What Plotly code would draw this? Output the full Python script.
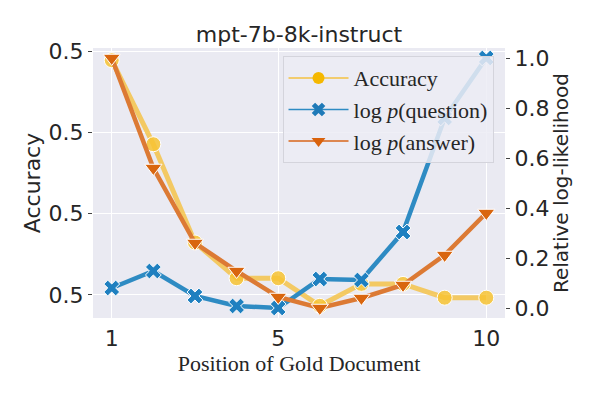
import plotly.graph_objects as go

positions = [1, 2, 3, 4, 5, 6, 7, 8, 9, 10]
accuracy = [0.5178, 0.4971, 0.4729, 0.4641, 0.4641, 0.4573, 0.4627, 0.4627, 0.4593, 0.4593]
log_p_question = [0.08, 0.148, 0.048, 0.008, 0.0, 0.116, 0.112, 0.304, 0.76, 1.0]
log_p_answer = [1.0, 0.56, 0.26, 0.148, 0.044, 0.0, 0.04, 0.092, 0.212, 0.38]

left_tickvals = [0.46, 0.48, 0.50, 0.52]
left_ticktext = ["0.5", "0.5", "0.5", "0.5"]
right_tickvals = [0.0, 0.2, 0.4, 0.6, 0.8, 1.0]
right_ticktext = ["0.0", "0.2", "0.4", "0.6", "0.8", "1.0"]
x_tickvals = [1, 5, 10]

title = "mpt-7b-8k-instruct"
names = ["Accuracy", "log <i>p</i>(question)", "log <i>p</i>(answer)"]

c_acc_line = "rgba(245,192,62,0.80)"
c_acc_mark = "rgba(247,195,50,0.85)"
c_acc_leg = "#F5B800"
c_q_line = "#2E8BC3"
c_q_mark = "#1F80C0"
c_a_line = "#DC7A34"
c_a_mark = "#D9660F"

fig = go.Figure()

fig.add_trace(go.Scatter(
    x=positions, y=accuracy, mode="lines+markers", showlegend=False,
    line=dict(color=c_acc_line, width=5),
    marker=dict(symbol="circle", size=15, color=c_acc_mark, line=dict(color="white", width=1)),
    yaxis="y",
))
fig.add_trace(go.Scatter(
    x=positions, y=log_p_question, mode="lines+markers", showlegend=False,
    line=dict(color=c_q_line, width=4.5),
    marker=dict(symbol="x", size=14, color=c_q_mark, line=dict(color="white", width=1)),
    yaxis="y2",
))
fig.add_trace(go.Scatter(
    x=positions, y=log_p_answer, mode="lines+markers", showlegend=False,
    line=dict(color=c_a_line, width=4.5),
    marker=dict(symbol="triangle-down", size=15, color=c_a_mark, line=dict(color="white", width=1)),
    yaxis="y2",
))

# legend entries
for nm, lc, mc, sym, grp in [
    (names[0], "#F5C242", c_acc_leg, "circle", "a"),
    (names[1], "#2E8BC3", "#1F7AB8", "x", "b"),
    (names[2], "#D9661A", "#D9620C", "triangle-down", "c"),
]:
    fig.add_trace(go.Scatter(
        x=[None], y=[None], mode="lines+markers", name=nm, legendgroup=grp,
        line=dict(color=lc, width=1.5),
        marker=dict(symbol=sym, size=12, color=mc),
        yaxis="y",
    ))

tick_font = dict(family="DejaVu Sans", size=22, color="#262626")

fig.update_layout(
    width=598, height=399,
    margin=dict(l=93, r=93, t=48, b=81),
    paper_bgcolor="white",
    plot_bgcolor="#EAEAF2",
    title=dict(text=title, x=0.5, xanchor="center", y=0.915, yanchor="middle",
               font=dict(family="DejaVu Sans", size=22, color="#262626")),
    xaxis=dict(
        range=[0.55, 10.45], tickvals=x_tickvals, ticktext=[str(v) for v in x_tickvals],
        showgrid=True, gridcolor="white", gridwidth=1, zeroline=False,
        ticks="outside", ticklen=1, tickcolor="rgba(0,0,0,0)",
        tickfont=tick_font, showline=False, automargin=False,
        title=dict(text="Position of Gold Document", standoff=2,
                   font=dict(family="Liberation Serif", size=22, color="#262626")),
    ),
    yaxis=dict(
        range=[0.4543, 0.5208], tickvals=left_tickvals, ticktext=left_ticktext,
        showgrid=True, gridcolor="white", gridwidth=1, zeroline=False,
        ticks="outside", ticklen=4, tickcolor="#444444", tickwidth=1,
        tickfont=tick_font, showline=False, automargin=False,
        title=dict(text="Accuracy", standoff=1,
                   font=dict(family="DejaVu Sans", size=22, color="#262626")),
    ),
    yaxis2=dict(
        range=[-0.04, 1.04], tickvals=right_tickvals, ticktext=right_ticktext,
        overlaying="y", side="right", showgrid=False, zeroline=False,
        ticks="outside", ticklen=4, tickcolor="#444444", tickwidth=1,
        tickfont=tick_font, showline=False, automargin=False,
        title=dict(text="Relative log-likelihood", standoff=1,
                   font=dict(family="DejaVu Sans", size=20, color="#262626")),
    ),
    legend=dict(
        x=0.46, y=0.97, xanchor="left", yanchor="top",
        bgcolor="rgba(236,236,244,0.85)", bordercolor="#D4D4DC", borderwidth=1,
        font=dict(family="Liberation Serif", size=22, color="#262626"),
        tracegroupgap=0, traceorder="grouped", itemwidth=60,
    ),
)

fig.write_html("out.html", config={"displayModeBar": False},
               post_script="document.body.style.margin='0';document.body.style.padding='0';")
